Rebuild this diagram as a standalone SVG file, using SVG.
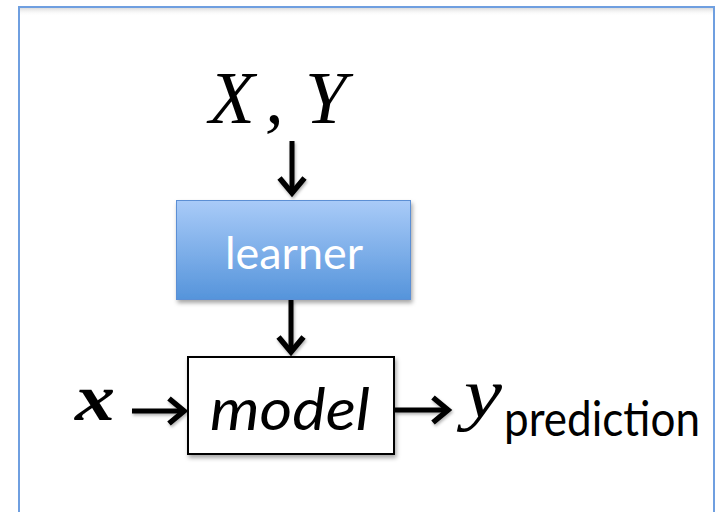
<svg xmlns="http://www.w3.org/2000/svg" width="717" height="512" viewBox="0 0 717 512">
  <style>
    .math { font-family: "Liberation Serif", "Times New Roman", serif; font-style: italic; fill: #000; }
    .label { font-family: Lato, "Open Sans", "Liberation Sans", sans-serif; }
    .conn { stroke: #000; stroke-width: 5; fill: none; marker-end: url(#arrow); }
  </style>
  <defs>
    <linearGradient id="blueGrad" x1="0" y1="0" x2="0" y2="1">
      <stop offset="0" stop-color="#a9cbf8"/>
      <stop offset="1" stop-color="#5594db"/>
    </linearGradient>
    <linearGradient id="topShade" x1="0" y1="0" x2="0" y2="1">
      <stop offset="0" stop-color="#d8d8d8" stop-opacity="0.9"/>
      <stop offset="1" stop-color="#ffffff" stop-opacity="0"/>
    </linearGradient>
    <filter id="shadow" x="-10%" y="-10%" width="130%" height="140%">
      <feDropShadow dx="1.5" dy="3" stdDeviation="2" flood-color="#000" flood-opacity="0.35"/>
    </filter>
    <filter id="shadowSmall" filterUnits="userSpaceOnUse" x="0" y="0" width="717" height="512">
      <feDropShadow dx="1" dy="2" stdDeviation="1.5" flood-color="#000" flood-opacity="0.3"/>
    </filter>
    <marker id="arrow" viewBox="0 0 28 32" refX="20" refY="16" markerWidth="28" markerHeight="32" markerUnits="userSpaceOnUse" orient="auto">
      <path d="M4,3.5 L19,16 L4,28.5" fill="none" stroke="#000" stroke-width="5.5" stroke-linejoin="miter"/>
    </marker>
  </defs>

  <rect width="717" height="512" fill="#ffffff"/>

  <g id="frame">
    <rect x="20" y="8" width="694" height="8" fill="url(#topShade)"/>
    <rect x="19" y="7" width="695" height="530" fill="none" stroke="#6f9fe0" stroke-width="2"/>
  </g>

  <g id="connectors" filter="url(#shadowSmall)">
    <line class="conn" x1="292" y1="141" x2="292" y2="194"/>
    <line class="conn" x1="291" y1="300" x2="291" y2="353"/>
    <line class="conn" x1="132" y1="411" x2="185" y2="411"/>
    <line class="conn" x1="395" y1="410" x2="449" y2="410"/>
  </g>

  <g id="node-XY">
    <text class="math" y="123" font-size="75"><tspan x="209">X</tspan><tspan x="265">,</tspan><tspan x="305">Y</tspan></text>
  </g>

  <g id="node-learner">
    <rect x="176.5" y="200.5" width="234" height="99" fill="url(#blueGrad)" stroke="#5b8fd4" stroke-width="1" filter="url(#shadow)"/>
    <text class="label" x="294" y="269" font-size="44" fill="#ffffff" text-anchor="middle" textLength="138" lengthAdjust="spacingAndGlyphs">learner</text>
  </g>

  <g id="node-model">
    <rect x="188" y="357" width="206" height="97" fill="#ffffff" stroke="#000" stroke-width="2" filter="url(#shadow)"/>
    <text class="label" x="290" y="430" font-size="58" font-style="italic" fill="#000" text-anchor="middle" textLength="160" lengthAdjust="spacingAndGlyphs">model</text>
  </g>

  <g id="node-x">
    <text class="math" x="75" y="420" font-size="66" font-weight="bold" textLength="40" lengthAdjust="spacingAndGlyphs">x</text>
  </g>

  <g id="node-y">
    <text class="math" x="464" y="417" font-size="70" textLength="38" lengthAdjust="spacingAndGlyphs">y</text>
    <text class="label" x="504" y="436" font-size="49" fill="#000" textLength="196" lengthAdjust="spacingAndGlyphs">prediction</text>
  </g>
</svg>
